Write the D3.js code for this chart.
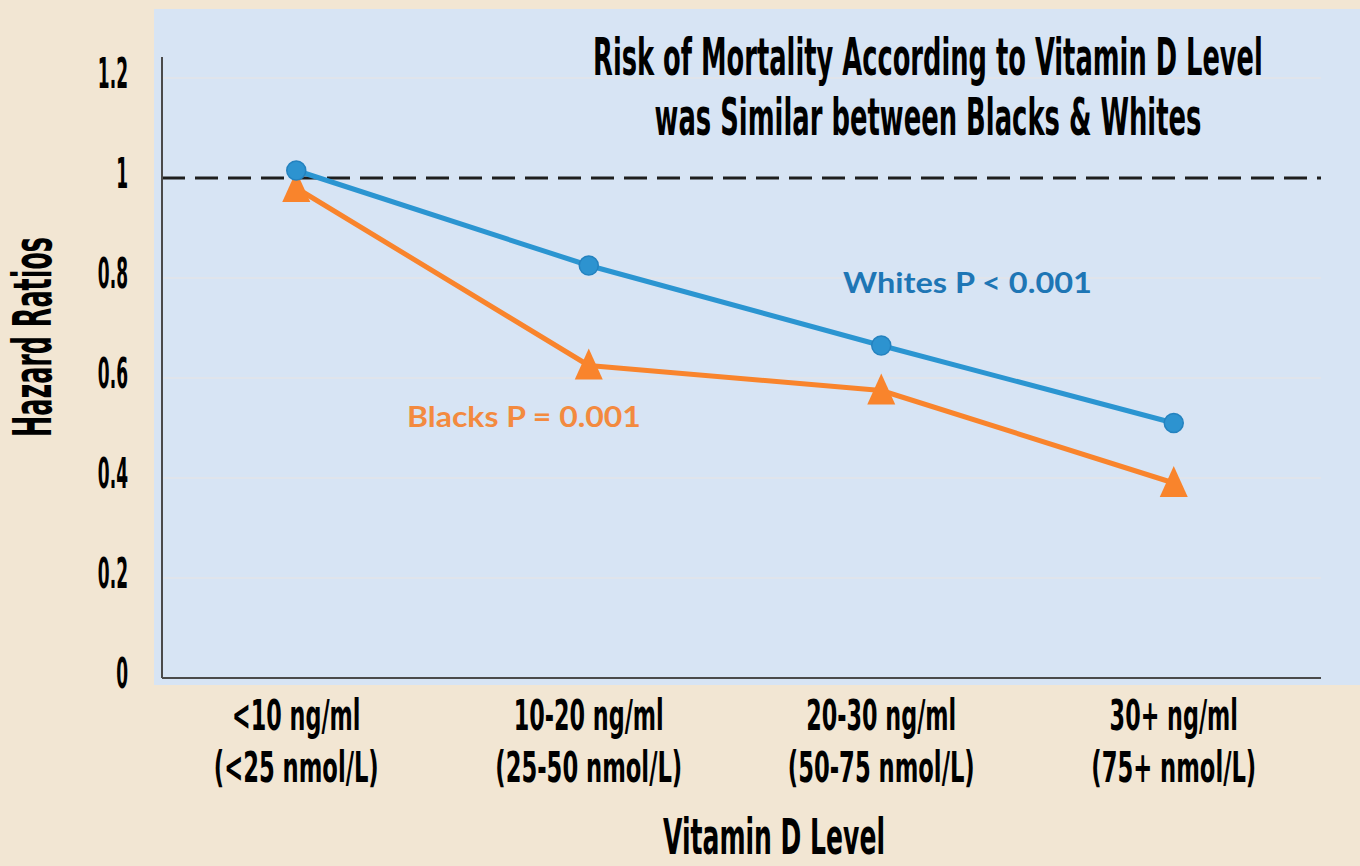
<!DOCTYPE html>
<html>
<head>
<meta charset="utf-8">
<script src="https://cdn.jsdelivr.net/npm/d3@7"></script>
<style>
  html, body { margin: 0; padding: 0; background: #f2e6d3; }
  svg { display: block; }
  .cond { font-family: "Liberation Sans Narrow", "DejaVu Sans Condensed", "Liberation Sans", sans-serif; font-weight: bold; fill: #000; }
  .ann { font-family: Lato, "Open Sans", sans-serif; font-weight: bold; }
</style>
</head>
<body>
<svg id="chart" width="1360" height="866"></svg>
<script>
// ---- data ----
const categories = ["<10 ng/ml", "10-20 ng/ml", "20-30 ng/ml", "30+ ng/ml"];
const categoriesNmol = ["(<25 nmol/L)", "(25-50 nmol/L)", "(50-75 nmol/L)", "(75+ nmol/L)"];
const whites = [1.015, 0.825, 0.665, 0.51];
const blacks = [0.98, 0.625, 0.575, 0.39];
const yTicks = [0, 0.2, 0.4, 0.6, 0.8, 1, 1.2];
const yTickLabels = ["0", "0.2", "0.4", "0.6", "0.8", "1", "1.2"];
const referenceLine = 1;
const titleLines = ["Risk of Mortality According to Vitamin D Level", "was Similar between Blacks & Whites"];
const yTitle = "Hazard Ratios";
const xTitle = "Vitamin D Level";
const whitesLabel = "Whites P < 0.001";
const blacksLabel = "Blacks P = 0.001";

// ---- layout ----
const svg = d3.select("#chart");
const W = 1360, H = 866;
const axisLeft = 162, axisRight = 1321, y0 = 678, yTop = 57;

svg.append("rect").attr("width", W).attr("height", H).attr("fill", "#f2e6d3");
svg.append("rect").attr("x", 154).attr("y", 9).attr("width", W - 154).attr("height", 676).attr("fill", "#d7e4f4");

const x = d3.scalePoint().domain(categories).range([150, 1320]).padding(0.5);
const y = d3.scaleLinear().domain([0, 1.2]).range([y0, 78]);

// Draw a horizontally squeezed text (emulates a very condensed display face).
function squeezedText(parent, cls, txt, px, py, anchor, size, opts) {
  const g = parent.append("g");
  const t = g.append("text").attr("class", cls)
    .attr("text-anchor", anchor).style("font-size", size + "px").text(txt);
  const w = t.node().getComputedTextLength();
  const k = opts.width ? opts.width / w : opts.k;
  const rot = opts.rotate ? ` rotate(${opts.rotate})` : "";
  g.attr("transform", `translate(${px},${py})${rot} scale(${k},1)`);
  if (opts.fill) t.attr("fill", opts.fill);
  return g;
}

// gridlines
svg.append("g").selectAll("line")
  .data(yTicks.filter(t => t > 0 && t !== referenceLine))
  .join("line")
  .attr("x1", axisLeft).attr("x2", axisRight)
  .attr("y1", d => y(d)).attr("y2", d => y(d))
  .attr("stroke", "#e3e5e8").attr("stroke-width", 1.5);

// reference dashed line
svg.append("line")
  .attr("x1", axisLeft).attr("x2", axisRight)
  .attr("y1", y(referenceLine)).attr("y2", y(referenceLine))
  .attr("stroke", "#1e1e1e").attr("stroke-width", 3.2)
  .attr("stroke-dasharray", "23 10");

// axes lines
svg.append("line").attr("x1", axisLeft).attr("x2", axisLeft).attr("y1", yTop).attr("y2", y0)
  .attr("stroke", "#4a4a4a").attr("stroke-width", 2);
svg.append("line").attr("x1", axisLeft).attr("x2", axisRight).attr("y1", y0).attr("y2", y0)
  .attr("stroke", "#4a4a4a").attr("stroke-width", 2.2);

// y tick labels
const yTickG = svg.append("g");
yTicks.forEach((d, i) => {
  squeezedText(yTickG, "cond", yTickLabels[i], 128, y(d) + 10, "end", 43, { k: 0.44 });
});

// x category labels
const xLabG = svg.append("g");
categories.forEach((c, i) => {
  squeezedText(xLabG, "cond", c, x(c), 730, "middle", 42, { k: 0.59 });
  squeezedText(xLabG, "cond", categoriesNmol[i], x(c), 782, "middle", 42, { k: 0.6 });
});

// axis titles
squeezedText(svg, "cond", yTitle, 51, 337, "middle", 53, { width: 200, rotate: -90 });
squeezedText(svg, "cond", xTitle, 774, 854, "middle", 50, { width: 222 });

// chart title
const titleWidths = [670, 547];
titleLines.forEach((t, i) => {
  squeezedText(svg, "cond", t, 928, 75 + i * 60, "middle", 52, { width: titleWidths[i] });
});

// series lines
const line = d3.line().x((d, i) => x(categories[i])).y(d => y(d));
const blueLine = "#2b95d1", orangeLine = "#f9842c";

svg.append("path").datum(blacks).attr("d", line)
  .attr("fill", "none").attr("stroke", orangeLine).attr("stroke-width", 5).attr("stroke-linejoin", "round");
svg.append("path").datum(whites).attr("d", line)
  .attr("fill", "none").attr("stroke", blueLine).attr("stroke-width", 5).attr("stroke-linejoin", "round");

// markers
const triW = 28, triH = 31;
svg.append("g").selectAll("path")
  .data(blacks)
  .join("path")
  .attr("d", (d, i) => {
    const cx = x(categories[i]), cy = y(d);
    return `M${cx},${cy - triH * 0.55}L${cx + triW / 2},${cy + triH * 0.45}L${cx - triW / 2},${cy + triH * 0.45}Z`;
  })
  .attr("fill", orangeLine);

svg.append("g").selectAll("circle")
  .data(whites)
  .join("circle")
  .attr("cx", (d, i) => x(categories[i]))
  .attr("cy", d => y(d))
  .attr("r", 9.5)
  .attr("fill", "#2d93d0")
  .attr("stroke", "#2482bf").attr("stroke-width", 1.5);

// annotations
squeezedText(svg, "ann", whitesLabel, 843, 293, "start", 28, { width: 249, fill: "#1e76b5" });
squeezedText(svg, "ann", blacksLabel, 407, 427, "start", 28, { width: 234, fill: "#f38a3f" });
</script>
</body>
</html>
